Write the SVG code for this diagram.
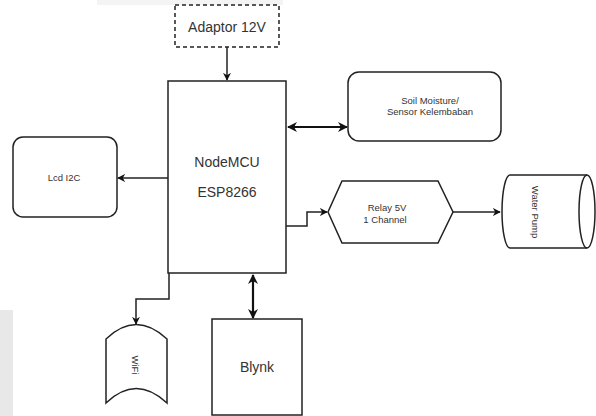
<svg xmlns="http://www.w3.org/2000/svg" width="596" height="416" viewBox="0 0 596 416">
<defs>
<style>
.box{fill:#fff;stroke:#222;stroke-width:1.5}
.ln{fill:none;stroke:#222;stroke-width:1.5}
.bi{fill:none;stroke:#111;stroke-width:2.2}
.t{font-family:"Liberation Sans",Arial,sans-serif;fill:#333;text-anchor:middle}
.big{font-size:14px}
.sm{font-size:9.5px}
</style>
<marker id="ah" viewBox="0 0 10 10" refX="9" refY="5" markerWidth="8" markerHeight="8" markerUnits="userSpaceOnUse" orient="auto-start-reverse">
<path d="M0,0 L10,5 L0,10 L3,5 Z" fill="#111"/>
</marker>
<marker id="ah2" viewBox="0 0 10 10" refX="9" refY="5" markerWidth="10" markerHeight="10" markerUnits="userSpaceOnUse" orient="auto-start-reverse">
<path d="M0,0 L10,5 L0,10 L3,5 Z" fill="#111"/>
</marker>
</defs>
<rect width="596" height="416" fill="#fff"/>
<rect x="97" y="0" width="186" height="5" fill="#f4f4f4"/>
<rect x="0" y="310" width="13" height="106" fill="#e8e8e8"/>

<g id="connectors">
<path class="ln" d="M227,47 V80" marker-end="url(#ah)"/>
<path class="ln" d="M168,178 H118" marker-end="url(#ah)"/>
<path class="bi" d="M288,127 H347" marker-start="url(#ah2)" marker-end="url(#ah2)"/>
<path class="ln" d="M286,226 H307 V212 H327" marker-end="url(#ah)"/>
<path class="ln" d="M453,212 H500" marker-end="url(#ah)"/>
<path class="ln" d="M169,273 V299 H136 V324" marker-end="url(#ah)"/>
<path class="bi" d="M253,275 V318" marker-start="url(#ah2)" marker-end="url(#ah2)"/>
</g>

<g id="adaptor">
<rect x="175" y="5" width="104" height="42" fill="#fff" stroke="#222" stroke-width="1.5" stroke-dasharray="4,3"/>
<text class="t big" x="227" y="32">Adaptor 12V</text>
</g>

<g id="nodemcu">
<rect class="box" x="168" y="81" width="118" height="192"/>
<text class="t big" x="227" y="167">NodeMCU</text>
<text class="t big" x="227" y="197">ESP8266</text>
</g>

<g id="lcd">
<rect class="box" x="13" y="137" width="104" height="80" rx="10"/>
<text class="t sm" x="64" y="181">Lcd I2C</text>
</g>

<g id="soil">
<rect class="box" x="348" y="72" width="153" height="69" rx="11"/>
<text class="t sm" x="430" y="104">Soil Moisture/</text>
<text class="t sm" x="430" y="115">Sensor Kelembaban</text>
</g>

<g id="relay">
<polygon class="box" points="342,181 438,181 453,212 438,243 342,243 328,212"/>
<text class="t sm" x="387" y="211">Relay 5V</text>
<text class="t sm" x="385" y="223">1 Channel</text>
</g>

<g id="pump">
<path class="box" d="M510,175 H587 A8,36.5 0 0 1 587,248 H510 A8,36.5 0 0 1 510,175 Z"/>
<path class="ln" d="M587,175 A8,36.5 0 0 0 587,248"/>
<text class="t sm" transform="translate(535,212) rotate(90)" y="3">Water Pump</text>
</g>

<g id="wifi">
<path class="box" d="M106,339 Q136,310 167,339 V403 Q136,374 106,403 Z"/>
<text class="t sm" transform="translate(135,365) rotate(90)" y="3">WiFi</text>
</g>

<g id="blynk">
<rect class="box" x="212" y="319" width="90" height="96"/>
<text class="t big" x="257" y="372">Blynk</text>
</g>
</svg>
